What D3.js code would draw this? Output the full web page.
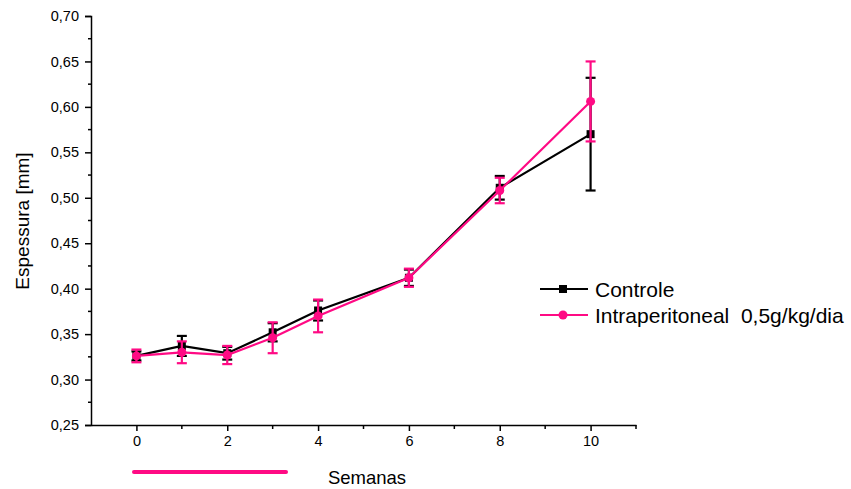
<!DOCTYPE html>
<html>
<head>
<meta charset="utf-8">
<script src="https://cdn.jsdelivr.net/npm/d3@7"></script>
<style>
body { margin: 0; background: #fff; }
text { font-family: "Liberation Sans", Arial, sans-serif; }
</style>
</head>
<body>
<div id="chart"></div>
<script>
// weeks
var semanas = [0, 1, 2, 3, 4, 6, 8, 10];
// Controle
var controleMean = [0.326, 0.337, 0.329, 0.352, 0.376, 0.412, 0.511, 0.570];
var controleErr  = [0.005, 0.011, 0.007, 0.010, 0.011, 0.009, 0.013, 0.062];
// Intraperitoneal 0,5g/kg/dia
var intraMean = [0.326, 0.330, 0.327, 0.346, 0.370, 0.412, 0.508, 0.606];
var intraErr  = [0.007, 0.012, 0.010, 0.017, 0.018, 0.010, 0.014, 0.044];

var yTicks = [0.25, 0.30, 0.35, 0.40, 0.45, 0.50, 0.55, 0.60, 0.65, 0.70];
var xTicks = [0, 2, 4, 6, 8, 10];

var pink = "#ff0a84";
var width = 851, height = 489;
var svg = d3.select("#chart").append("svg")
	.attr("width", width)
	.attr("height", height);

var x = d3.scaleLinear().domain([-1, 11]).range([91, 636]);
var y = d3.scaleLinear().domain([0.25, 0.70]).range([425, 16]);

// y axis
var yAxis = d3.axisLeft(y)
	.tickValues(yTicks)
	.tickSize(6)
	.tickFormat(d => d3.format(".2f")(d).replace(".", ","));
var gy = svg.append("g").attr("transform", "translate(91,0)").call(yAxis);
gy.select(".domain").attr("stroke-width", 1.5);
gy.selectAll(".tick line").attr("stroke-width", 1.5);
gy.selectAll("text").attr("font-size", 14.5).attr("x", -12).attr("fill", "#000");
gy.selectAll(".minor").data(d3.range(0.275, 0.70, 0.05)).enter()
	.append("line")
	.attr("x1", 0).attr("x2", -3)
	.attr("y1", d => y(d)).attr("y2", d => y(d))
	.attr("stroke", "#000").attr("stroke-width", 1.5);

// x axis
var xAxis = d3.axisBottom(x)
	.tickValues(xTicks)
	.tickSize(6)
	.tickSizeOuter(0);
var gx = svg.append("g").attr("transform", "translate(0,425)").call(xAxis);
gx.select(".domain").attr("stroke-width", 1.5);
gx.selectAll(".tick line").attr("stroke-width", 1.5);
gx.selectAll("text").attr("font-size", 14.5).attr("y", 11).attr("fill", "#000");
gx.selectAll(".minor").data([1, 3, 5, 7, 9, 11]).enter()
	.append("line")
	.attr("x1", d => x(d)).attr("x2", d => x(d))
	.attr("y1", 0).attr("y2", 4)
	.attr("stroke", "#000").attr("stroke-width", 1.5);

// titles
svg.append("text")
	.attr("transform", "translate(29,221) rotate(-90)")
	.attr("text-anchor", "middle")
	.attr("font-size", 19)
	.text("Espessura [mm]");
svg.append("text")
	.attr("x", 367).attr("y", 484)
	.attr("text-anchor", "middle")
	.attr("font-size", 18.5)
	.text("Semanas");
svg.append("line")
	.attr("x1", 134).attr("x2", 286)
	.attr("y1", 472).attr("y2", 472)
	.attr("stroke", pink).attr("stroke-width", 4)
	.attr("stroke-linecap", "round");

function drawSeries(means, errs, color, shape) {
	var pts = semanas.map((w, i) => ({w: w, m: means[i], e: errs[i]}));
	var g = svg.append("g");
	g.append("path")
		.datum(pts)
		.attr("fill", "none")
		.attr("stroke", color)
		.attr("stroke-width", 2.2)
		.attr("d", d3.line().x(d => x(d.w)).y(d => y(d.m)));
	var eb = g.selectAll(".eb").data(pts).enter().append("g");
	eb.append("line")
		.attr("x1", d => x(d.w)).attr("x2", d => x(d.w))
		.attr("y1", d => y(d.m - d.e)).attr("y2", d => y(d.m + d.e))
		.attr("stroke", color).attr("stroke-width", 2.2);
	[-1, 1].forEach(s => {
		eb.append("line")
			.attr("x1", d => x(d.w) - 5).attr("x2", d => x(d.w) + 5)
			.attr("y1", d => y(d.m + s * d.e)).attr("y2", d => y(d.m + s * d.e))
			.attr("stroke", color).attr("stroke-width", 2.2);
	});
	if (shape == "square") {
		g.selectAll(".mk").data(pts).enter().append("rect")
			.attr("x", d => x(d.w) - 4).attr("y", d => y(d.m) - 4)
			.attr("width", 8).attr("height", 8)
			.attr("fill", color);
	} else {
		g.selectAll(".mk").data(pts).enter().append("circle")
			.attr("cx", d => x(d.w)).attr("cy", d => y(d.m))
			.attr("r", 4.5)
			.attr("fill", color);
	}
}
drawSeries(controleMean, controleErr, "#000", "square");
drawSeries(intraMean, intraErr, pink, "circle");

// legend
var legend = [
	{label: "Controle", color: "#000", shape: "square"},
	{label: "Intraperitoneal\u00a0\u00a00,5g/kg/dia", color: pink, shape: "circle"}
];
var lg = svg.selectAll(".lg").data(legend).enter().append("g")
	.attr("transform", (d, i) => "translate(540," + (289 + i * 26) + ")");
lg.append("line")
	.attr("x1", 0).attr("x2", 48)
	.attr("stroke", d => d.color).attr("stroke-width", 2.2);
lg.filter(d => d.shape == "square").append("rect")
	.attr("x", 19).attr("y", -4).attr("width", 8).attr("height", 8)
	.attr("fill", d => d.color);
lg.filter(d => d.shape == "circle").append("circle")
	.attr("cx", 23).attr("r", 4.5)
	.attr("fill", d => d.color);
lg.append("text")
	.attr("x", 55).attr("y", 8)
	.attr("font-size", 21)
	.text(d => d.label);
</script>
</body>
</html>
